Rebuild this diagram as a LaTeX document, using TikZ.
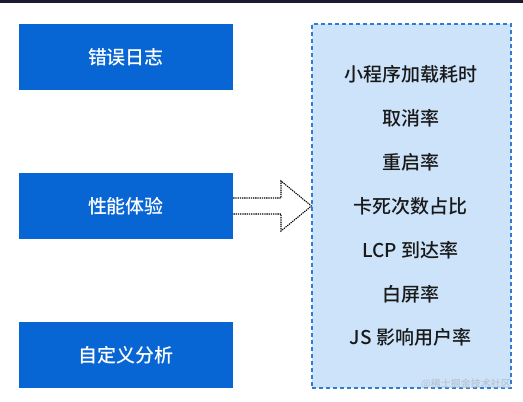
\documentclass[tikz,border=0pt]{standalone}
\usepackage{fontspec}
\setmainfont{Noto Sans CJK SC}[UprightFont={* Medium}]
\definecolor{boxblue}{HTML}{0866D4}
\definecolor{panelfill}{HTML}{CCE3FA}
\definecolor{paneldraw}{HTML}{2F7DD1}
\definecolor{topbar}{HTML}{1A1B2E}
\definecolor{wm}{HTML}{B8C4D2}
\begin{document}
\begin{tikzpicture}[x=1pt,y=-1pt,
  catbox/.style={draw=none,fill=boxblue,minimum width=214pt,minimum height=66pt,inner sep=0pt,text=white,font=\fontsize{19}{22}\selectfont},
  itemtext/.style={text=black!90,font=\fontsize{19}{22}\selectfont,inner sep=0pt},
  dotarrow/.style={draw=black,dash pattern=on 1.3pt off 0.9pt,line width=1.1pt,fill=white}]
\useasboundingbox (0,0) rectangle (523,402);
\fill[white] (0,0) rectangle (523,402);
\fill[topbar] (0,0) rectangle (523,2.5);
% left boxes
\node[catbox] (err) at (126,57) {错误日志};
\node[catbox] (perf) at (126,206) {性能体验};
\node[catbox] (custom) at (126,355) {自定义分析};
% right panel
\node[draw=paneldraw,fill=panelfill,line width=1.1pt,dash pattern=on 4pt off 3pt,minimum width=199pt,minimum height=364pt,inner sep=0pt] (panel) at (411.5,206) {};
% arrow
\coordinate (s1) at (perf.east |- 0,198);
\coordinate (s2) at (perf.east |- 0,214);
\draw[dotarrow] (s1) -- (281,198) -- (281,181) -- (panel.west) -- (281,231) -- (281,214) -- (s2);
% items
\node[itemtext] (i1) at (410.5,74) {小程序加载耗时};
\node[itemtext] (i2) at (410.5,118) {取消率};
\node[itemtext] (i3) at (410.5,162) {重启率};
\node[itemtext] (i4) at (410.5,206) {卡死次数占比};
\node[itemtext] (i5) at (410.5,250) {LCP 到达率};
\node[itemtext] (i6) at (410.5,294) {白屏率};
\node[itemtext] (i7) at (410.5,337) {JS 影响用户率};
% watermark
\node[text=wm,font=\fontsize{10}{12}\selectfont,anchor=east,inner sep=0pt] (wmk) at (511,384) {@稀土掘金技术社区};
\end{tikzpicture}
\end{document}
